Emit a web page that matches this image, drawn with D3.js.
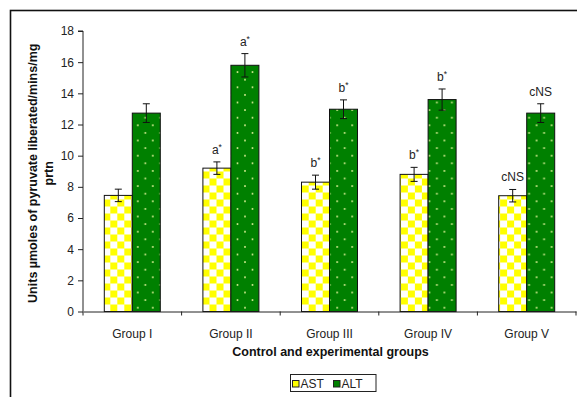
<!DOCTYPE html>
<html>
<head>
<meta charset="utf-8">
<script src="https://cdn.jsdelivr.net/npm/d3@7"></script>
<style>
  html, body { margin: 0; padding: 0; background: #fff; }
  svg { display: block; font-family: "Liberation Sans", Arial, sans-serif; }
</style>
</head>
<body>
<svg id="chart" width="577" height="397"></svg>
<script>
// Enzyme activity (AST / ALT) per group, with standard error and significance marks
const groups = ["Group I", "Group II", "Group III", "Group IV", "Group V"];
const seriesNames = ["AST", "ALT"];
const astValues = [7.45, 9.2, 8.3, 8.8, 7.43];
const altValues = [12.73, 15.8, 12.98, 13.6, 12.73];
const astErrors = [0.4, 0.4, 0.45, 0.45, 0.4];
const altErrors = [0.6, 0.75, 0.6, 0.68, 0.6];
const astMarks = ["", "a*", "b*", "b*", "cNS"];
const altMarks = ["", "a*", "b*", "b*", "cNS"];
const yTicks = [0, 2, 4, 6, 8, 10, 12, 14, 16, 18];

const svg = d3.select("#chart");
const plot = { left: 83, right: 576, top: 31, bottom: 311.5 };

// outer chart frame (runs off the right and bottom edges)
svg.append("rect")
  .attr("x", 10.5).attr("y", 10.5)
  .attr("width", 700).attr("height", 500)
  .attr("fill", "none").attr("stroke", "#111").attr("stroke-width", 1.6);

const x = d3.scaleBand().domain(groups).range([plot.left, plot.right]).padding(0);
const barW = 28;
const x1 = d3.scaleBand().domain(seriesNames)
  .range([x.bandwidth() / 2 - barW, x.bandwidth() / 2 + barW]);
const y = d3.scaleLinear().domain([0, 18]).range([plot.bottom, plot.top]);

const rows = groups.map((g, i) => ({
  group: g,
  bars: [
    { key: "AST", value: astValues[i], err: astErrors[i], mark: astMarks[i] },
    { key: "ALT", value: altValues[i], err: altErrors[i], mark: altMarks[i] }
  ]
}));

// fill patterns: yellow checkerboard for AST, dotted green for ALT
const defs = svg.append("defs");
function checker(id, ox, oy) {
  const p = defs.append("pattern").attr("id", id)
    .attr("patternUnits", "userSpaceOnUse")
    .attr("x", ox).attr("y", oy).attr("width", 14).attr("height", 14);
  p.append("rect").attr("width", 14).attr("height", 14).attr("fill", "#ffffff");
  p.append("rect").attr("x", 0).attr("y", 0).attr("width", 7).attr("height", 7).attr("fill", "#ffff00");
  p.append("rect").attr("x", 7).attr("y", 7).attr("width", 7).attr("height", 7).attr("fill", "#ffff00");
}
function dotted(id, ox, oy) {
  const p = defs.append("pattern").attr("id", id)
    .attr("patternUnits", "userSpaceOnUse")
    .attr("x", ox).attr("y", oy).attr("width", 15).attr("height", 15.2);
  p.append("rect").attr("width", 15).attr("height", 15.2).attr("fill", "#008000");
  p.append("circle").attr("cx", 4.5).attr("cy", 3.8).attr("r", 1).attr("fill", "#d4ec90");
  p.append("circle").attr("cx", 12).attr("cy", 11.4).attr("r", 1).attr("fill", "#d4ec90");
}

// y axis
const yAxis = svg.append("g")
  .attr("transform", `translate(${plot.left},0)`)
  .call(d3.axisLeft(y).tickValues(yTicks).tickSize(5).tickPadding(4).tickFormat(d3.format("d")));
yAxis.select(".domain").attr("stroke", "#222").attr("d", `M-5,${plot.top}H0V${plot.bottom}`);
yAxis.selectAll(".tick line").attr("stroke", "#222");
yAxis.selectAll(".tick text").attr("font-size", 12).attr("fill", "#222")
  .attr("font-family", "'Liberation Sans', Arial, sans-serif");

// bars
const gGroup = svg.append("g").selectAll("g").data(rows).join("g")
  .attr("transform", d => `translate(${x(d.group)},0)`);

gGroup.each(function (d, gi) {
  const g = d3.select(this);
  d.bars.forEach(b => {
    const bx = x(d.group) + x1(b.key);
    const id = `fill-${b.key}-${gi}`;
    if (b.key === "AST") checker(id, bx, plot.bottom); else dotted(id, bx + 0.5, plot.bottom);
    g.append("rect")
      .attr("x", x1(b.key)).attr("y", y(b.value))
      .attr("width", barW).attr("height", y(0) - y(b.value))
      .attr("fill", `url(#${id})`)
      .attr("stroke", "#111").attr("stroke-width", 1);
    // error bar
    const cx = x1(b.key) + barW / 2;
    const eg = g.append("g").attr("stroke", "#111").attr("stroke-width", 1);
    eg.append("line").attr("x1", cx).attr("x2", cx)
      .attr("y1", y(b.value + b.err)).attr("y2", y(b.value - b.err));
    eg.append("line").attr("x1", cx - 3.5).attr("x2", cx + 3.5)
      .attr("y1", y(b.value + b.err)).attr("y2", y(b.value + b.err));
    eg.append("line").attr("x1", cx - 3.5).attr("x2", cx + 3.5)
      .attr("y1", y(b.value - b.err)).attr("y2", y(b.value - b.err));
    // significance mark
    if (b.mark) {
      const t = g.append("text")
        .attr("x", cx).attr("y", y(b.value + b.err) - 8)
        .attr("text-anchor", "middle").attr("font-size", 12).attr("fill", "#222");
      if (b.mark.endsWith("*")) {
        t.append("tspan").text(b.mark.slice(0, -1));
        t.append("tspan").attr("dy", -4).attr("font-size", 8.5).text("*");
      } else {
        t.text(b.mark);
      }
    }
  });
});

// x axis (drawn over bar bottoms)
const xAxis = svg.append("g")
  .attr("transform", `translate(0,${plot.bottom})`)
  .call(d3.axisBottom(x).tickSize(0).tickPadding(18));
xAxis.select(".domain").attr("stroke", "#222");
xAxis.selectAll(".tick text").attr("font-size", 12).attr("fill", "#222")
  .attr("font-family", "'Liberation Sans', Arial, sans-serif");
// category boundary ticks
svg.append("g").selectAll("line")
  .data(groups.map(g => x(g)).concat([plot.right]))
  .join("line")
  .attr("x1", d => d).attr("x2", d => d)
  .attr("y1", plot.bottom).attr("y2", plot.bottom + 4)
  .attr("stroke", "#222");

// axis titles
svg.append("text")
  .attr("x", (plot.left + plot.right) / 2 + 1).attr("y", 356)
  .attr("text-anchor", "middle").attr("font-weight", "bold").attr("font-size", 12.5)
  .attr("fill", "#111").text("Control and experimental groups");

const yt = svg.append("text")
  .attr("transform", `translate(36.5,${(plot.top + plot.bottom) / 2 + 2}) rotate(-90)`)
  .attr("text-anchor", "middle").attr("font-weight", "bold").attr("font-size", 12.5)
  .attr("fill", "#111");
yt.append("tspan").attr("x", 0).attr("y", 0).text("Units µmoles of pyruvate liberated/mins/mg");
yt.append("tspan").attr("x", 0).attr("y", 16).text("prtn");

// legend
const legend = svg.append("g");
legend.append("rect")
  .attr("x", 290.5).attr("y", 374.5).attr("width", 85.5).attr("height", 17)
  .attr("fill", "#fff").attr("stroke", "#222").attr("stroke-width", 1);
const legItems = [
  { key: "AST", fill: "#ffff00", x: 292.5 },
  { key: "ALT", fill: "#008000", x: 333.5 }
];
legItems.forEach(it => {
  legend.append("rect").attr("x", it.x).attr("y", 380.5).attr("width", 6.5).attr("height", 6.5)
    .attr("fill", it.fill).attr("stroke", "#222").attr("stroke-width", 1);
  legend.append("text").attr("x", it.x + 8).attr("y", 388)
    .attr("font-size", 12).attr("fill", "#222").text(it.key);
});
</script>
</body>
</html>
